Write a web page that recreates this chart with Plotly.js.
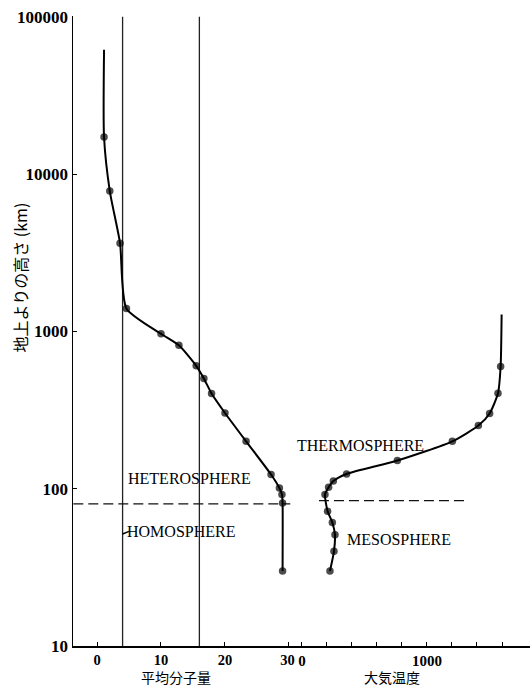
<!DOCTYPE html>
<html>
<head>
<meta charset="utf-8">
<script src="https://cdn.plot.ly/plotly-3.0.1.min.js"></script>
<style>html,body{margin:0;padding:0;background:#fff;}#chart{width:532px;height:687px;}</style>
</head>
<body>
<div id="chart"></div>
<script>
// Mean molecular weight profile (left panel)
const mwAltitude = [30, 81, 92, 101, 123, 200, 303, 403, 502, 604, 815, 966, 1400, 3640, 7800, 17200, 61800];
const mwValue    = [29.0, 29.0, 28.9, 28.5, 27.2, 23.3, 20.0, 17.9, 16.7, 15.5, 12.8, 10.0, 4.6, 3.6, 2.0, 1.1, 1.1];
const mwMarked   = [1,1,1,1,1,1,1,1,1,1,1,1,1,1,1,1,0];

// Atmospheric temperature profile (right panel)
const tAltitude = [30, 40, 51, 61, 72, 92, 102, 112, 124, 151, 200, 252, 301, 404, 598, 1280];
const tValue    = [224, 256, 264, 243, 205, 184, 213, 251, 357, 763, 1203, 1411, 1501, 1568, 1589, 1597];
const tMarked   = [1,1,1,1,1,1,1,1,1,1,1,1,1,1,1,0];

// Reference lines: helium (4) and atomic oxygen (16) molecular weights
const refWeights = [4, 16];
const refAltRange = [10, 100000];
// Homosphere / heterosphere boundary
const boundaryLeftAlt = 80;
const boundaryLeftX = [-3.7, 30.2];
const boundaryRightAlt = 84;
const boundaryRightX = [136, 1336];
// Leader from the helium line to the HOMOSPHERE label
const leaderX = [4, 5.0];
const leaderAlt = [51.5, 53.5];

const yTicks = [10, 100, 1000, 10000, 100000];
const yTickText = ['10', '100', '1000', '10000', '100000'];
const mwTicks = [0, 10, 20, 30];
const mwTickText = ['0', '10', '20', '30\u2009'];
const tTicks = [0, 200, 400, 600, 800, 1000, 1200, 1400, 1600];
const tTickText = ['0', '', '', '', '', '1000', '', '', ''];

const serif = 'Liberation Serif, Times New Roman, serif';
const cjk = 'Noto Sans CJK JP, sans-serif';

const traces = [];
refWeights.forEach(w => traces.push({
  x: [w, w], y: refAltRange, xaxis: 'x', yaxis: 'y', mode: 'lines',
  line: {color: '#222', width: 1.3}, hoverinfo: 'skip'
}));
traces.push({
  x: boundaryLeftX, y: [boundaryLeftAlt, boundaryLeftAlt], xaxis: 'x', yaxis: 'y', mode: 'lines',
  line: {color: '#111', width: 1.3, dash: '10px,5px'}
});
traces.push({
  x: boundaryRightX, y: [boundaryRightAlt, boundaryRightAlt], xaxis: 'x2', yaxis: 'y', mode: 'lines',
  line: {color: '#111', width: 1.3, dash: '10px,5px'}
});
traces.push({
  x: leaderX, y: leaderAlt, xaxis: 'x', yaxis: 'y', mode: 'lines',
  line: {color: '#000', width: 1.5}
});
traces.push({
  x: mwValue, y: mwAltitude, xaxis: 'x', yaxis: 'y', mode: 'lines+markers',
  line: {color: '#000', width: 2, shape: 'spline', smoothing: 0.6},
  marker: {color: '#000', size: mwMarked.map(m => m ? 7.5 : 0), line: {width: 0}}
});
traces.push({
  x: tValue, y: tAltitude, xaxis: 'x2', yaxis: 'y', mode: 'lines+markers',
  line: {color: '#000', width: 2, shape: 'spline', smoothing: 0.6},
  marker: {color: '#000', size: tMarked.map(m => m ? 7.5 : 0), line: {width: 0}}
});

const layout = {
  width: 532, height: 687,
  margin: {l: 73, r: 2, t: 16, b: 41},
  paper_bgcolor: '#fff', plot_bgcolor: '#fff',
  showlegend: false,
  font: {family: serif, color: '#000'},
  xaxis: {
    domain: [0, 0.48], range: [-3.75, 30.53], anchor: 'y',
    tickmode: 'array', tickvals: mwTicks, ticktext: mwTickText, ticks: 'inside', ticklen: 4, tickcolor: '#000',
    showline: true, linecolor: '#000', linewidth: 1.5, showgrid: false, zeroline: false,
    tickfont: {family: serif, size: 14.5, weight: 'bold'}
  },
  xaxis2: {
    domain: [0.48, 1], range: [-76.8, 1824], anchor: 'y',
    tickmode: 'array', tickvals: tTicks, ticktext: tTickText, ticks: 'inside', ticklen: 4, tickcolor: '#000',
    showline: true, linecolor: '#000', linewidth: 1.5, showgrid: false, zeroline: false,
    tickfont: {family: serif, size: 15, weight: 'bold'}
  },
  yaxis: {
    type: 'log', range: [1, 5.005],
    tickmode: 'array', tickvals: yTicks, ticktext: yTickText, ticks: 'inside', ticklen: 4, tickcolor: '#000',
    showline: true, linecolor: '#000', linewidth: 1.5, showgrid: false, zeroline: false,
    tickfont: {family: serif, size: 17, weight: 'bold'}
  },
  annotations: [
    {xref: 'paper', yref: 'paper', x: -0.116, y: 0.585, xanchor: 'center', yanchor: 'middle',
     text: '地上よりの高さ (km)', textangle: -90, showarrow: false, font: {family: cjk, size: 16}},
    {xref: 'paper', yref: 'paper', x: 0.2254, y: -0.049, xanchor: 'center', yanchor: 'middle', borderpad: 0,
     text: '平均分子量', showarrow: false, font: {family: cjk, size: 14}},
    {xref: 'paper', yref: 'paper', x: 0.698, y: -0.049, xanchor: 'center', yanchor: 'middle', borderpad: 0,
     text: '大気温度', showarrow: false, font: {family: cjk, size: 14}},
    {xref: 'x', yref: 'y', x: 14.5, y: 2.065, xanchor: 'center', yanchor: 'middle',
     text: 'HETEROSPHERE', showarrow: false, font: {family: serif, size: 16}},
    {xref: 'x', yref: 'y', x: 13.1, y: 1.725, xanchor: 'center', yanchor: 'middle',
     text: 'HOMOSPHERE', showarrow: false, font: {family: serif, size: 16}},
    {xref: 'x2', yref: 'y', x: 472, y: 2.276, xanchor: 'center', yanchor: 'middle',
     text: 'THERMOSPHERE', showarrow: false, font: {family: serif, size: 16}},
    {xref: 'x2', yref: 'y', x: 774, y: 1.674, xanchor: 'center', yanchor: 'middle',
     text: 'MESOSPHERE', showarrow: false, font: {family: serif, size: 16}}
  ]
};

Plotly.newPlot('chart', traces, layout, {staticPlot: true});
</script>
</body>
</html>
